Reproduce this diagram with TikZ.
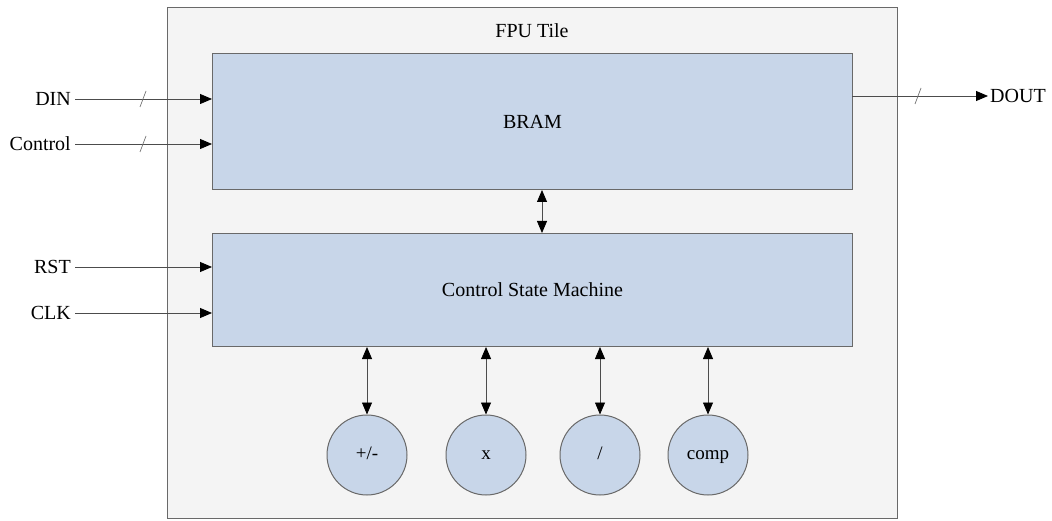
\documentclass[tikz,border=0pt]{standalone}
\usepackage{fontspec}
\setmainfont{Liberation Serif}
\usetikzlibrary{arrows.meta}
\definecolor{tilefill}{RGB}{244,244,244}
\definecolor{boxfill}{RGB}{200,214,233}
\definecolor{edge}{RGB}{105,105,105}
\tikzset{
  tilebox/.style={draw=edge, line width=1pt, fill=tilefill, anchor=north west, inner sep=0pt},
  blockbox/.style={draw=edge, line width=1pt, fill=boxfill, anchor=north west, inner sep=0pt, font=\fontsize{20}{24}\selectfont},
  unit/.style={circle, draw=edge, line width=1pt, fill=boxfill, minimum size=80pt, inner sep=0pt, text height=9pt, text depth=0pt, font=\fontsize{19}{23}\selectfont},
  lbl/.style={inner sep=0pt, font=\fontsize{20}{24}\selectfont},
  sig/.style={draw=black!70, line width=0.8pt, -{Triangle[length=12pt,width=10pt,color=black]}},
  bidir/.style={draw=black!70, line width=0.8pt, {Triangle[length=12pt,width=10pt,color=black]}-{Triangle[length=12pt,width=10pt,color=black]}},
  busmark/.style={draw=black!55, line width=0.7pt}
}
\begin{document}
\begin{tikzpicture}[x=1pt,y=-1pt]
\useasboundingbox (0,0) rectangle (1052,521);
\fill[white] (0,0) rectangle (1052,521);
% tile
\node[tilebox, minimum width=730pt, minimum height=511pt] (tile) at (167,7) {};
\node[lbl] (title) at (532,31) {FPU Tile};
% blocks
\node[blockbox, minimum width=640pt, minimum height=136pt] (bram) at (212,53) {BRAM};
\node[blockbox, minimum width=640pt, minimum height=113pt] (csm) at (212,233) {Control State Machine};
% units
\node[unit] (add) at (367,455) {+/-};
\node[unit] (mul) at (486,455) {x};
\node[unit] (div) at (600,455) {/};
\node[unit] (cmp) at (708,455) {comp};
% input labels
\node[lbl, anchor=east] (din) at (71,99) {DIN};
\node[lbl, anchor=east] (ctl) at (71,144) {Control};
\node[lbl, anchor=east] (rst) at (71,267) {RST};
\node[lbl, anchor=east] (clk) at (71,313) {CLK};
\coordinate (doutc) at (852,96);
\node[lbl, anchor=west] (dout) at (990,96) {DOUT};
% input arrows
\draw[sig] ([xshift=4pt]din.east) -- (din.east -| bram.west);
\draw[sig] ([xshift=4pt]ctl.east) -- (ctl.east -| bram.west);
\draw[sig] ([xshift=4pt]rst.east) -- (rst.east -| csm.west);
\draw[sig] ([xshift=4pt]clk.east) -- (clk.east -| csm.west);
\draw[sig] (doutc) -- ([xshift=-2pt]dout.west);
% bus marks
\draw[busmark] (140,107) -- (146,91);
\draw[busmark] (140,152) -- (146,136);
\draw[busmark] (915,104) -- (921,88);
% bidirectional links
\draw[bidir] (bram.south -| 542,0) -- (csm.north -| 542,0);
\draw[bidir] (csm.south -| add.north) -- (add.north);
\draw[bidir] (csm.south -| mul.north) -- (mul.north);
\draw[bidir] (csm.south -| div.north) -- (div.north);
\draw[bidir] (csm.south -| cmp.north) -- (cmp.north);
\end{tikzpicture}
\end{document}
